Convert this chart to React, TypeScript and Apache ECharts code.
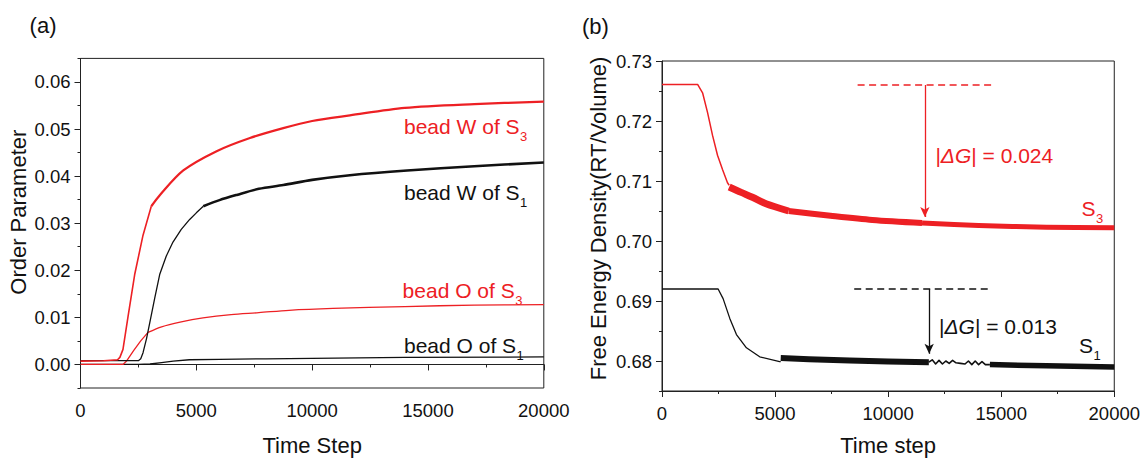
import React, { useEffect, useRef } from 'react';
import * as echarts from 'echarts';

const RED = '#ed2024';
const INK = '#111111';
const AXIS = '#222222';
const FONT = '"Liberation Sans", Arial, Helvetica, sans-serif';

// ---------- Panel (a): Order Parameter ----------
const redW_rise_t = [0, 1000, 1600, 1700, 1834, 2050, 2339, 2697, 3056];
const redW_rise_v = [0.0007, 0.0008, 0.0010, 0.0015, 0.0032, 0.0101, 0.0191, 0.0274, 0.0336];
const redW_tail_t = [3056, 3431, 4437, 5876, 7315, 8753, 10000, 11630, 14000, 17000, 20000];
const redW_tail_v = [0.0336, 0.0360, 0.0412, 0.0453, 0.0481, 0.0502, 0.0517, 0.0529, 0.0545, 0.0553, 0.0558];

const blackW_rise_t = [0, 2500, 2600, 2700, 2850, 2987, 3200, 3418, 3700, 3992, 4350, 4713, 5000, 5300];
const blackW_rise_v = [0.0008, 0.0008, 0.0012, 0.0025, 0.0055, 0.0088, 0.0140, 0.0191, 0.0230, 0.0260, 0.0287, 0.0308, 0.0322, 0.0336];
const blackW_tail_t = [5300, 6000, 6741, 7700, 8753, 10000, 11630, 14100, 17000, 20000];
const blackW_tail_v = [0.0336, 0.0349, 0.0360, 0.0373, 0.0381, 0.0392, 0.0402, 0.0412, 0.0421, 0.0429];

const redO_rise_t = [0, 1834, 2000, 2300, 2600, 2913];
const redO_rise_v = [0.0000, 0.0000, 0.0008, 0.0030, 0.0050, 0.0068];
const redO_tail_t = [2913, 3500, 4300, 5287, 6500, 7700, 9000, 10900, 14000, 17000, 20000];
const redO_tail_v = [0.0068, 0.0080, 0.0090, 0.0099, 0.0106, 0.0110, 0.0115, 0.0119, 0.0123, 0.0126, 0.0127];

const blackO_t = [0, 2500, 3000, 3500, 4000, 4700, 6000, 8000, 10000, 14000, 20000];
const blackO_v = [0.0000, 0.0000, 0.0001, 0.0004, 0.0007, 0.0010, 0.0011, 0.0012, 0.0013, 0.0015, 0.0016];

const yMajorA = [0, 0.01, 0.02, 0.03, 0.04, 0.05, 0.06];

// ---------- Panel (b): Free energy density ----------
const s3_drop_t = [0, 1574, 1794, 2015, 2235, 2455, 2676, 2896, 2970];
const s3_drop_v = [0.7261, 0.7261, 0.7247, 0.7214, 0.7176, 0.7143, 0.7119, 0.7097, 0.7093];
const s3_bandA_t = [2970, 3500, 4000, 4600, 5600];
const s3_bandA_v = [0.7090, 0.7081, 0.7073, 0.7062, 0.7050];
const s3_bandB_t = [5600, 7450, 9300, 11500];
const s3_bandB_v = [0.7050, 0.7042, 0.7035, 0.7030];
const s3_bandC_t = [11500, 14000, 17000, 20000];
const s3_bandC_v = [0.7030, 0.7026, 0.7023, 0.7022];

const s1_drop_t = [0, 2482, 2702, 2998, 3292, 3733, 4320, 5201, 5250];
const s1_drop_v = [0.6920, 0.6920, 0.6904, 0.6871, 0.6844, 0.6822, 0.6807, 0.6799, 0.6799];
const s1_bandA_t = [5250, 6500, 8300, 10000, 11800];
const s1_bandA_v = [0.6805, 0.6803, 0.6801, 0.6799, 0.6798];
const s1_zig_t = [11800, 11950, 12100, 12250, 12400, 12550, 12700, 12850, 13000, 13200, 13400, 13550, 13700, 13850, 14000, 14150, 14300, 14500];
const s1_zig_v = [0.6798, 0.6802, 0.6795, 0.6801, 0.6795, 0.6800, 0.6796, 0.6801, 0.6797, 0.6796, 0.6795, 0.6800, 0.6794, 0.6800, 0.6794, 0.6799, 0.6794, 0.6794];
const s1_bandB_t = [14500, 17000, 20000];
const s1_bandB_v = [0.6794, 0.6792, 0.6790];

const yMajorB = [0.68, 0.69, 0.7, 0.71, 0.72, 0.73];

// annotations (data coordinates)
const dG3_level = 0.726;
const dG3_line = [8650, 14620];
const dG3_arrow = [11624, 0.7040];
const dG1_level = 0.692;
const dG1_line = [8500, 14430];
const dG1_arrow = [11814, 0.6812];

const zip = (t: number[], v: number[]) => t.map((x, i) => [x, v[i]]);

function textWidth(text: string, size: number): number {
  const c = document.createElement('canvas').getContext('2d');
  if (!c) return text.length * size * 0.55;
  c.font = `${size}px "Liberation Sans", Arial, sans-serif`;
  return c.measureText(text).width;
}

function label(text: string, x: number, y: number, color: string, size = 21, rich?: any) {
  return {
    type: 'text',
    x,
    y,
    silent: true,
    style: {
      text,
      fill: color,
      fontSize: size,
      fontFamily: FONT,
      align: 'left',
      verticalAlign: 'middle',
      textAlign: 'left',
      textVerticalAlign: 'middle',
      rich,
    },
  };
}

function subLabel(main: string, sub: string, x: number, y: number, color: string) {
  const w = textWidth(main, 21);
  return [label(main, x, y, color, 21), label(sub, x + w + 0.5, y + 10, color, 13)];
}

const SMOOTH = { smooth: 0.3 };

function lineSeries(name: string, data: number[][], color: string, width: number, xi: number, yi: number, extra: any = {}) {
  return {
    name,
    type: 'line',
    xAxisIndex: xi,
    yAxisIndex: yi,
    data,
    showSymbol: false,
    symbol: 'none',
    smooth: false,
    lineStyle: { color, width, join: 'round', cap: 'butt' },
    itemStyle: { color },
    silent: true,
    ...extra,
  };
}

function xAxisCfg(grid: number, name: string, gap: number) {
  return {
    type: 'value',
    gridIndex: grid,
    min: 0,
    max: 20000,
    interval: 5000,
    name,
    nameLocation: 'middle',
    nameGap: gap,
    nameTextStyle: { fontSize: 22, color: INK, fontFamily: FONT },
    axisLine: { show: true, lineStyle: { color: AXIS, width: 1 } },
    axisTick: { show: true, length: 6, lineStyle: { color: AXIS, width: 1 } },
    minorTick: { show: true, splitNumber: 2, length: 3, lineStyle: { color: AXIS, width: 1 } },
    axisLabel: { fontSize: 18.5, color: INK, fontFamily: FONT, margin: 13, formatter: (v: number) => String(v) },
    splitLine: { show: false },
    minorSplitLine: { show: false },
  };
}

const isMajor = (v: number) => Math.abs(v * 100 - Math.round(v * 100)) < 1e-6;
const fmt2 = (v: number) => (isMajor(v) ? (Math.abs(v) < 1e-9 ? '0.00' : v.toFixed(2)) : '');

function yAxisMain(grid: number, min: number, max: number, name: string, gap: number, padLeft: number) {
  return {
    type: 'value',
    gridIndex: grid,
    position: 'left',
    min,
    max,
    interval: 0.005,
    name,
    nameLocation: 'middle',
    nameGap: gap,
    nameRotate: 90,
    nameTextStyle: { fontSize: 22, color: INK, fontFamily: FONT, padding: [0, 0, 0, padLeft] },
    axisLine: { show: true, lineStyle: { color: AXIS, width: 1 } },
    axisTick: { show: true, length: 3, lineStyle: { color: AXIS, width: 1 } },
    axisLabel: { fontSize: 18.5, color: INK, fontFamily: FONT, margin: 10, formatter: fmt2, showMinLabel: true, showMaxLabel: true },
    splitLine: { show: false },
  };
}

function yAxisMajorTicks(grid: number, min: number, max: number, majors: number[]) {
  return {
    type: 'value',
    gridIndex: grid,
    position: 'left',
    offset: 0,
    min,
    max,
    interval: 0.005,
    axisLine: { show: false },
    axisTick: { show: true, length: 6, customValues: majors, lineStyle: { color: AXIS, width: 1 } },
    axisLabel: { show: false },
    splitLine: { show: false },
  };
}

const dashLine = (color: string, level: number, span: number[]) => ({
  silent: true,
  symbol: ['none', 'none'],
  label: { show: false },
  emphasis: { disabled: true },
  lineStyle: { color, width: 1.5, type: [7, 4.5] },
  data: [[{ coord: [span[0], level] }, { coord: [span[1], level] }]],
});

const arrowLine = (color: string, level: number, arrow: number[]) => ({
  silent: true,
  symbol: ['none', 'arrow'],
  symbolSize: [7, 10],
  label: { show: false },
  emphasis: { disabled: true },
  lineStyle: { color, width: 1.3, type: 'solid' },
  data: [[{ coord: [arrow[0], level] }, { coord: [arrow[0], arrow[1]] }]],
});

export default function App() {
  const ref = useRef<HTMLDivElement>(null);

  useEffect(() => {
    if (!ref.current) return;
    const chart = echarts.init(ref.current, undefined, { renderer: 'svg' });

    const gridA = { left: 80.5, top: 58.4, width: 463.3, height: 338.1 };
    const gridB = { left: 662, top: 61, width: 453.7, height: 336.3 };

    const graphics: any[] = [
      label('(a)', 29.6, 25, INK, 22),
      label('(b)', 582, 26.7, INK, 22),
      ...subLabel('bead W of S', '3', 404, 126, RED),
      ...subLabel('bead W of S', '1', 404, 192, INK),
      ...subLabel('bead O of S', '3', 402.6, 290, RED),
      ...subLabel('bead O of S', '1', 404, 345, INK),
      label('|{i|ΔG}| = 0.024', 935.4, 155, RED, 21, { i: { fontStyle: 'italic', fontSize: 21, fontFamily: FONT, fill: RED } }),
      label('|{i|ΔG}| = 0.013', 939, 326.7, INK, 21, { i: { fontStyle: 'italic', fontSize: 21, fontFamily: FONT, fill: INK } }),
      ...subLabel('S', '3', 1081.5, 208, RED),
      ...subLabel('S', '1', 1079, 345, INK),
    ];

    chart.setOption({
      animation: false,
      backgroundColor: '#ffffff',
      textStyle: { fontFamily: FONT },
      grid: [
        { ...gridA, show: true, borderColor: AXIS, borderWidth: 1, backgroundColor: 'transparent', containLabel: false },
        { ...gridB, show: true, borderColor: AXIS, borderWidth: 1, backgroundColor: 'transparent', containLabel: false },
      ],
      xAxis: [xAxisCfg(0, 'Time Step', 46), xAxisCfg(1, 'Time step', 43)],
      yAxis: [
        yAxisMain(0, -0.005, 0.065, 'Order Parameter', 51, 22),
        yAxisMajorTicks(0, -0.005, 0.065, yMajorA),
        yAxisMain(1, 0.675, 0.73, 'Free Energy Density(RT/Volume)', 53, 15),
        yAxisMajorTicks(1, 0.675, 0.73, yMajorB),
      ],
      series: [
        lineSeries('bead O of S1', zip(blackO_t, blackO_v), INK, 1.3, 0, 0),
        lineSeries('bead O of S3 (rise)', zip(redO_rise_t, redO_rise_v), RED, 1.3, 0, 0),
        lineSeries('bead O of S3', zip(redO_tail_t, redO_tail_v), RED, 1.3, 0, 0, SMOOTH),
        lineSeries('bead W of S1 (rise)', zip(blackW_rise_t, blackW_rise_v), INK, 1.3, 0, 0),
        lineSeries('bead W of S1', zip(blackW_tail_t, blackW_tail_v), INK, 2.6, 0, 0, SMOOTH),
        lineSeries('bead W of S3 (rise)', zip(redW_rise_t, redW_rise_v), RED, 1.6, 0, 0),
        lineSeries('bead W of S3', zip(redW_tail_t, redW_tail_v), RED, 2.2, 0, 0, SMOOTH),

        lineSeries('S1 (drop)', zip(s1_drop_t, s1_drop_v), INK, 1.3, 1, 2, { markLine: dashLine(INK, dG1_level, dG1_line) }),
        lineSeries('S1 band a', zip(s1_bandA_t, s1_bandA_v), INK, 6, 1, 2, { markLine: arrowLine(INK, dG1_level, dG1_arrow) }),
        lineSeries('S1 zigzag', zip(s1_zig_t, s1_zig_v), INK, 1.6, 1, 2),
        lineSeries('S1 band b', zip(s1_bandB_t, s1_bandB_v), INK, 5.5, 1, 2),
        lineSeries('S3 (drop)', zip(s3_drop_t, s3_drop_v), RED, 1.5, 1, 2, { markLine: dashLine(RED, dG3_level, dG3_line) }),
        lineSeries('S3 band a', zip(s3_bandA_t, s3_bandA_v), RED, 7, 1, 2, { ...SMOOTH, markLine: arrowLine(RED, dG3_level, dG3_arrow) }),
        lineSeries('S3 band b', zip(s3_bandB_t, s3_bandB_v), RED, 6, 1, 2, SMOOTH),
        lineSeries('S3 band c', zip(s3_bandC_t, s3_bandC_v), RED, 5, 1, 2, SMOOTH),
      ],
      graphic: { elements: graphics },
    });

    return () => chart.dispose();
  }, []);

  return (
    <div
      ref={ref}
      style={{ position: 'absolute', left: 0, top: 0, width: 1143, height: 461, background: '#fff' }}
    />
  );
}
